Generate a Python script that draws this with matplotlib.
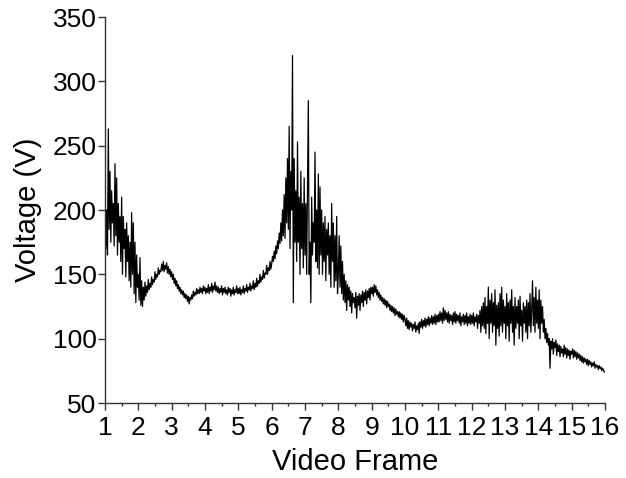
import numpy as np
import matplotlib
matplotlib.use('Agg')
import matplotlib.pyplot as plt
from matplotlib.ticker import MultipleLocator

# voltage samples, 40 per video frame (step 0.025)
frame_1 = [225, 170, 200, 165, 263, 185, 230, 175, 215, 190, 205, 172, 236, 180, 225, 165, 205, 175, 195, 160,
           210, 150, 195, 170, 185, 148, 190, 160, 180, 145, 175, 140, 198, 150, 190, 135, 175, 128, 165, 140]
frame_2 = [150, 130, 163, 126, 145, 125, 140, 130, 144, 133, 141, 136, 146, 138, 143, 140, 148, 142, 146, 144,
           152, 146, 150, 148, 155, 150, 153, 152, 158, 153, 160, 152, 157, 154, 159, 151, 156, 150, 154, 148]
frame_3 = [152, 146, 150, 143, 147, 141, 145, 139, 142, 137, 140, 135, 138, 134, 137, 132, 135, 131, 134, 129,
           133, 127, 132, 130, 134, 131, 137, 133, 136, 134, 139, 135, 138, 135, 140, 136, 139, 135, 141, 137]
frame_4 = [140, 135, 139, 136, 142, 135, 140, 137, 143, 136, 141, 138, 144, 137, 141, 136, 140, 135, 139, 136,
           141, 134, 139, 136, 140, 135, 138, 134, 140, 136, 139, 133, 138, 135, 140, 134, 138, 136, 141, 135]
frame_5 = [139, 135, 140, 134, 138, 136, 141, 135, 139, 137, 142, 136, 140, 138, 143, 137, 141, 139, 145, 138,
           143, 140, 147, 141, 145, 143, 150, 144, 148, 146, 153, 147, 151, 150, 157, 150, 155, 153, 160, 154]
frame_6 = [158, 164, 160, 168, 162, 172, 166, 176, 170, 182, 174, 190, 176, 200, 180, 212, 178, 225, 190, 240,
           185, 265, 170, 230, 200, 320, 128, 240, 175, 215, 160, 253, 175, 210, 150, 230, 170, 205, 155, 225]
frame_7 = [165, 205, 150, 215, 285, 150, 175, 128, 210, 165, 190, 175, 245, 160, 200, 155, 228, 150, 218, 165,
           200, 150, 190, 160, 195, 145, 185, 165, 190, 150, 180, 140, 205, 160, 190, 140, 180, 145, 195, 135]
frame_8 = [150, 180, 140, 172, 135, 160, 130, 150, 128, 145, 122, 142, 130, 140, 125, 137, 120, 135, 128, 132,
           124, 136, 116, 133, 126, 135, 122, 134, 128, 137, 125, 136, 130, 138, 127, 137, 132, 139, 130, 140]
frame_9 = [135, 140, 133, 142, 136, 141, 134, 138, 132, 136, 130, 134, 129, 132, 127, 131, 126, 130, 124, 129,
           125, 127, 122, 126, 121, 125, 120, 124, 118, 123, 119, 121, 117, 121, 116, 120, 115, 119, 113, 118]
frame_10 = [115, 110, 116, 108, 114, 107, 113, 109, 112, 106, 111, 108, 113, 105, 110, 107, 112, 104, 113, 109,
            115, 108, 114, 110, 116, 109, 115, 111, 117, 110, 116, 112, 118, 111, 117, 112, 119, 111, 118, 113]
frame_11 = [119, 113, 121, 114, 120, 112, 124, 114, 122, 115, 120, 113, 121, 112, 119, 114, 118, 111, 120, 113,
            121, 112, 119, 114, 118, 112, 120, 110, 117, 113, 119, 111, 118, 112, 120, 110, 117, 112, 119, 111]
frame_12 = [118, 112, 120, 110, 117, 113, 119, 108, 118, 112, 122, 105, 125, 110, 128, 108, 132, 104, 125, 112,
            140, 100, 130, 112, 135, 105, 128, 110, 138, 95, 126, 108, 128, 102, 135, 110, 140, 105, 130, 112]
frame_13 = [125, 100, 135, 110, 128, 98, 130, 112, 138, 105, 125, 95, 132, 108, 125, 112, 130, 100, 133, 110,
            122, 98, 128, 112, 125, 105, 130, 100, 128, 110, 135, 105, 122, 145, 110, 132, 105, 140, 112, 130]
frame_14 = [108, 138, 100, 130, 112, 125, 105, 115, 100, 108, 97, 104, 95, 100, 77, 98, 92, 100, 88, 97,
            93, 99, 87, 96, 90, 95, 86, 94, 89, 92, 86, 95, 88, 93, 85, 92, 87, 91, 84, 90]
frame_15 = [88, 92, 85, 91, 86, 90, 84, 89, 85, 88, 83, 87, 82, 86, 81, 85, 82, 84, 80, 84,
            79, 83, 80, 82, 78, 81, 79, 82, 77, 80, 78, 79, 76, 79, 77, 78, 75, 77, 76, 74, 74]

voltage = (frame_1 + frame_2 + frame_3 + frame_4 + frame_5 + frame_6 + frame_7 + frame_8
           + frame_9 + frame_10 + frame_11 + frame_12 + frame_13 + frame_14 + frame_15)
frame = np.linspace(1, 16, len(voltage))

plt.rcParams['font.family'] = ['Liberation Sans', 'DejaVu Sans']

fig = plt.figure(figsize=(6.26, 4.78), dpi=100)
ax = fig.add_axes([0.1677, 0.1569, 0.7988, 0.8075])
ax.plot(frame, voltage, color='black', linewidth=0.9)

ax.set_xlim(1, 16)
ax.set_ylim(50, 350)
ax.xaxis.set_major_locator(MultipleLocator(1))
ax.xaxis.set_minor_locator(MultipleLocator(0.5))
ax.yaxis.set_major_locator(MultipleLocator(50))

for side in ['top', 'right']:
    ax.spines[side].set_visible(False)
for side in ['left', 'bottom']:
    ax.spines[side].set_color('#333333')
    ax.spines[side].set_linewidth(1.0)

ax.tick_params(axis='both', which='major', direction='out', length=5, width=1,
               color='#333333', labelsize=19)
ax.tick_params(axis='y', which='major', pad=1)
ax.tick_params(axis='x', which='major', pad=4)
ax.tick_params(axis='x', which='minor', direction='out', length=2.5, width=1, color='#333333')

ax.set_xlabel('Video Frame', fontsize=21, labelpad=6)
ax.set_ylabel('Voltage (V)', fontsize=21, labelpad=8)

fig.savefig('out.png', dpi=100)
